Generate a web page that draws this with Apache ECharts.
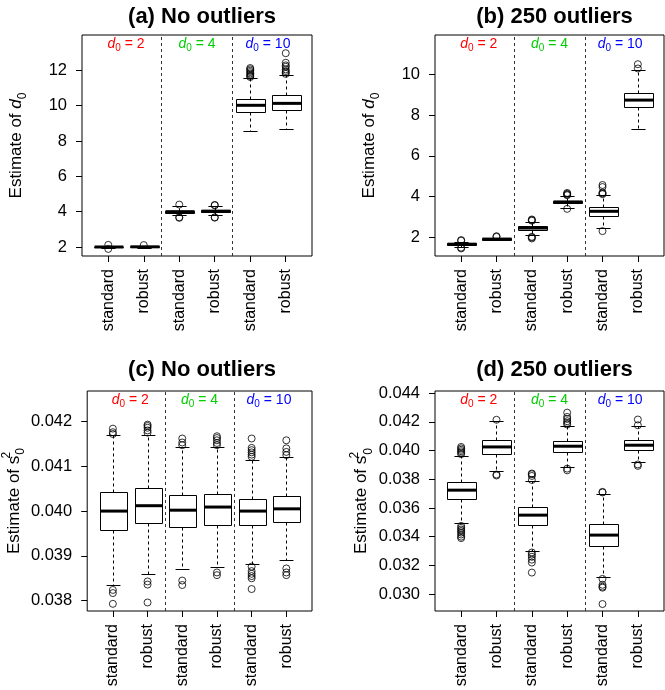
<!DOCTYPE html>
<html>
<head>
<meta charset="utf-8">
<script src="https://cdn.jsdelivr.net/npm/echarts@6/dist/echarts.min.js"></script>
<style>
html,body{margin:0;padding:0;background:#fff;}
#chart{width:665px;height:690px;}
</style>
</head>
<body>
<div id="chart"></div>
<script>
// ---------- DATA ----------
const categories = ['standard', 'robust', 'standard', 'robust', 'standard', 'robust'];
const groupValues = ['2', '4', '10'];
const groupCenters = [1.5, 3.5, 5.5];
const separators = [2.5, 4.5];
const panelTitles = ['(a) No outliers', '(b) 250 outliers', '(c) No outliers', '(d) 250 outliers'];

// [lower whisker, Q1, median, Q3, upper whisker]
const aStats = [
  [1.93, 1.98, 2.00, 2.02, 2.07],
  [1.95, 1.99, 2.01, 2.03, 2.08],
  [3.82, 3.95, 4.00, 4.06, 4.30],
  [3.83, 3.97, 4.03, 4.09, 4.32],
  [8.55, 9.62, 10.02, 10.39, 11.57],
  [8.70, 9.78, 10.13, 10.58, 11.75]
];
const aOutliers = [
  [2.12, 1.89],
  [2.11],
  [4.40, 3.68, 3.65],
  [4.38, 4.36, 3.68, 3.66],
  [11.62, 11.68, 11.75, 11.82, 11.90, 11.98, 12.06, 12.13],
  [11.80, 11.88, 11.96, 12.05, 12.20, 12.28, 12.43, 12.97]
];
const aTicks = [2, 4, 6, 8, 10, 12];

const bStats = [
  [1.55, 1.62, 1.67, 1.72, 1.80],
  [1.86, 1.89, 1.92, 1.95, 1.99],
  [2.10, 2.37, 2.46, 2.55, 2.78],
  [3.45, 3.67, 3.74, 3.80, 4.03],
  [2.44, 3.07, 3.28, 3.49, 4.08],
  [7.32, 8.37, 8.73, 9.10, 10.22]
];
const bOutliers = [
  [1.84, 1.87, 1.50, 1.46],
  [2.03, 2.06],
  [2.82, 2.85, 2.88, 2.03, 2.00, 1.95],
  [4.07, 4.10, 4.14, 4.18, 3.40],
  [4.12, 4.16, 4.20, 4.47, 4.57, 2.31],
  [10.28, 10.49]
];
const bTicks = [2, 4, 6, 8, 10];

const cStats = [
  [0.03834, 0.03958, 0.04000, 0.04043, 0.04169],
  [0.03860, 0.03973, 0.04012, 0.04052, 0.04169],
  [0.03870, 0.03964, 0.04002, 0.04035, 0.04142],
  [0.03875, 0.03970, 0.04009, 0.04039, 0.04142],
  [0.03881, 0.03968, 0.04000, 0.04028, 0.04114],
  [0.03891, 0.03975, 0.04005, 0.04034, 0.04121]
];
const cOutliers = [
  [0.04172, 0.04176, 0.04184, 0.03824, 0.03817, 0.03793],
  [0.04175, 0.04180, 0.04186, 0.04190, 0.04193, 0.03843, 0.03836, 0.03796],
  [0.04147, 0.04153, 0.04162, 0.03845, 0.03835],
  [0.04147, 0.04152, 0.04158, 0.04163, 0.04167, 0.03863, 0.03857],
  [0.04121, 0.04126, 0.04131, 0.04136, 0.04141, 0.04162, 0.03876, 0.03866, 0.03860, 0.03855, 0.03850, 0.03826],
  [0.04125, 0.04132, 0.04140, 0.04158, 0.03872, 0.03863, 0.03857]
];
const cTicks = [0.038, 0.039, 0.040, 0.041, 0.042];

const dStats = [
  [0.03492, 0.03663, 0.03724, 0.03782, 0.03965],
  [0.03856, 0.03979, 0.04025, 0.04070, 0.04204],
  [0.03302, 0.03481, 0.03550, 0.03608, 0.03789],
  [0.03886, 0.03993, 0.04030, 0.04065, 0.04171],
  [0.03121, 0.03334, 0.03411, 0.03485, 0.03694],
  [0.03917, 0.04002, 0.04037, 0.04072, 0.04169]
];
const dOutliers = [
  [0.03975, 0.03985, 0.03995, 0.04005, 0.04015, 0.04025, 0.03475, 0.03462, 0.03450, 0.03440, 0.03428, 0.03415, 0.03400, 0.03390],
  [0.04214, 0.03833, 0.03826],
  [0.03795, 0.03823, 0.03835, 0.03840, 0.03290, 0.03275, 0.03260, 0.03240, 0.03220, 0.03150],
  [0.04181, 0.04192, 0.04204, 0.04220, 0.04234, 0.04264, 0.03874, 0.03862],
  [0.03708, 0.03712, 0.03106, 0.03065, 0.03052, 0.03045, 0.02931],
  [0.04176, 0.04216, 0.03903, 0.03893]
];
const dTicks = [0.030, 0.032, 0.034, 0.036, 0.038, 0.040, 0.042, 0.044];

// ---------- LAYOUT / STYLE ----------
const FONT = 'Liberation Sans, Arial, Helvetica, sans-serif';
const groupColors = ['#ff0000', '#00cd00', '#0000ff'];
const panels = [
  { stats: aStats, outs: aOutliers, ticks: aTicks, digits: 0, yMin: 1.49, yMax: 14.0, grid: { left: 82, top: 35, width: 230, height: 221 }, name: 'd' },
  { stats: bStats, outs: bOutliers, ticks: bTicks, digits: 0, yMin: 1.09, yMax: 11.92, grid: { left: 435, top: 35, width: 229, height: 221 }, name: 'd' },
  { stats: cStats, outs: cOutliers, ticks: cTicks, digits: 3, yMin: 0.03777, yMax: 0.04268, grid: { left: 82, top: 391, width: 230, height: 220 }, name: 's' },
  { stats: dStats, outs: dOutliers, ticks: dTicks, digits: 3, yMin: 0.028825, yMax: 0.044145, grid: { left: 435, top: 391, width: 229, height: 220 }, name: 's' }
];
const titleTops = [1, 1, 354, 354];

const nameRich = {
  t: { fontSize: 17, fontFamily: FONT, color: '#000', lineHeight: 26 },
  i: { fontSize: 17, fontFamily: FONT, color: '#000', fontStyle: 'italic', lineHeight: 26 },
  sub: { fontSize: 12, fontFamily: FONT, color: '#000', verticalAlign: 'bottom', lineHeight: 26 },
  sup: { fontSize: 12, fontFamily: FONT, color: '#000', verticalAlign: 'top', lineHeight: 26, width: 1 }
};

function px(v) { return Math.round(v) + 0.5; }

function renderBox(params, api) {
  const x = api.value(0);
  const mn = api.coord([x, api.value(1)]);
  const q1 = api.coord([x, api.value(2)]);
  const md = api.coord([x, api.value(3)]);
  const q3 = api.coord([x, api.value(4)]);
  const mx = api.coord([x, api.value(5)]);
  const w = api.size([0.8, 0])[0];
  const cx = px(mn[0]);
  const stroke = '#000';
  const lineStyle = { stroke: stroke, lineWidth: 1 };
  const dashStyle = { stroke: stroke, lineWidth: 1, lineDash: [3, 3] };
  const l = Math.round(cx - w / 2), r = Math.round(cx + w / 2);
  return {
    type: 'group',
    children: [
      { type: 'line', shape: { x1: cx, y1: px(q3[1]), x2: cx, y2: px(mx[1]) }, style: dashStyle },
      { type: 'line', shape: { x1: cx, y1: px(q1[1]), x2: cx, y2: px(mn[1]) }, style: dashStyle },
      { type: 'line', shape: { x1: cx - w / 4, y1: px(mx[1]), x2: cx + w / 4, y2: px(mx[1]) }, style: lineStyle },
      { type: 'line', shape: { x1: cx - w / 4, y1: px(mn[1]), x2: cx + w / 4, y2: px(mn[1]) }, style: lineStyle },
      { type: 'rect', shape: { x: l + 0.5, y: px(q3[1]), width: r - l, height: Math.max(0, Math.round(q1[1]) - Math.round(q3[1])) }, style: { fill: '#fff', stroke: stroke, lineWidth: 1 } },
      { type: 'line', shape: { x1: l + 0.5, y1: md[1], x2: r + 0.5, y2: md[1] }, style: { stroke: stroke, lineWidth: 3 } }
    ]
  };
}

function renderLabel(params, api) {
  const idx = params.dataIndex;
  const p = api.coord([api.value(0), api.value(1)]);
  return {
    type: 'text',
    x: p[0],
    y: params.coordSys.y + 9,
    style: {
      text: '{i|d}{s|0}{n| = ' + groupValues[idx] + '}',
      align: 'center',
      verticalAlign: 'middle',
      fill: groupColors[idx],
      rich: {
        i: { fontSize: 14, fontStyle: 'italic', fontFamily: FONT, fill: groupColors[idx], lineHeight: 18 },
        s: { fontSize: 10, fontFamily: FONT, fill: groupColors[idx], verticalAlign: 'bottom', lineHeight: 18 },
        n: { fontSize: 14, fontFamily: FONT, fill: groupColors[idx], lineHeight: 18 }
      }
    }
  };
}

const grids = [], xAxes = [], yAxes = [], series = [], titles = [];
panels.forEach(function (p, i) {
  grids.push(Object.assign({ show: true, borderColor: '#000', borderWidth: 1, backgroundColor: 'transparent' }, p.grid));
  titles.push({
    text: panelTitles[i],
    left: p.grid.left + p.grid.width / 2,
    textAlign: 'center',
    top: titleTops[i],
    textStyle: { fontSize: 22, fontWeight: 'bold', fontFamily: FONT, color: '#000' }
  });
  const xVals = categories.map(function (c, k) { return k + 1; });
  xAxes.push({
    gridIndex: i, type: 'value', min: 0.26, max: 6.74,
    axisLine: { show: false }, splitLine: { show: false },
    axisTick: { show: true, length: 6, customValues: xVals, lineStyle: { color: '#000' } },
    axisLabel: {
      customValues: xVals, rotate: 90, margin: 13, fontSize: 16, fontFamily: FONT, color: '#000',
      formatter: function (v) { return categories[Math.round(v) - 1] || ''; }
    }
  });
  const nm = p.name === 'd' ? '{t|Estimate of }{i|d}{sub|0}' : '{t|Estimate of s}{sup|2}{sub|0}';
  yAxes.push({
    gridIndex: i, type: 'value', min: p.yMin, max: p.yMax,
    axisLine: { show: false }, splitLine: { show: false },
    axisTick: { show: true, length: 6, customValues: p.ticks, lineStyle: { color: '#000' } },
    axisLabel: {
      customValues: p.ticks, margin: 15, fontSize: 16.5, fontFamily: FONT, color: '#000',
      formatter: (function (d) { return function (v) { return Number(v).toFixed(d); }; })(p.digits)
    },
    name: nm, nameLocation: 'middle', nameGap: 53,
    nameTextStyle: { rich: nameRich, fontSize: 17, fontFamily: FONT, color: '#000' }
  });
  // boxes
  series.push({
    type: 'custom', xAxisIndex: i, yAxisIndex: i,
    renderItem: renderBox,
    encode: { x: 0, y: [1, 2, 3, 4, 5] },
    data: p.stats.map(function (s, k) { return [k + 1].concat(s); }),
    markLine: {
      silent: true, symbol: 'none', label: { show: false },
      lineStyle: { type: [3, 3], color: '#333', width: 1 },
      data: separators.map(function (v) { return { xAxis: v }; })
    },
    z: 2
  });
  // outliers
  const od = [];
  p.outs.forEach(function (arr, k) { arr.forEach(function (v) { od.push([k + 1, v]); }); });
  series.push({
    type: 'scatter', xAxisIndex: i, yAxisIndex: i, data: od,
    symbol: 'circle', symbolSize: 7,
    itemStyle: { color: 'rgba(0,0,0,0)', borderColor: '#000', borderWidth: 1 },
    z: 3
  });
  // group labels
  series.push({
    type: 'custom', xAxisIndex: i, yAxisIndex: i,
    renderItem: renderLabel,
    data: groupCenters.map(function (c) { return [c, p.yMax]; }),
    z: 4
  });
});

const chart = echarts.init(document.getElementById('chart'), null, { renderer: 'canvas' });
chart.setOption({
  animation: false,
  backgroundColor: '#fff',
  title: titles,
  grid: grids,
  xAxis: xAxes,
  yAxis: yAxes,
  series: series
});
</script>
</body>
</html>
